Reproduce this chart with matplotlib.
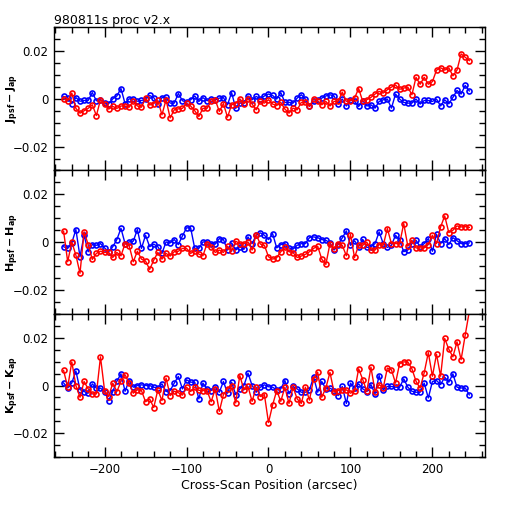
import matplotlib.pyplot as plt
import numpy as np
from matplotlib.ticker import MultipleLocator

# cross-scan positions (arcsec)
pos = np.arange(-250, 250, 5)

# values in units of 0.001 mag
j_blue = [1.0, 0.5, -2, 0.5, -1, -0.7, -0.7, 2.6, -0.8, -0.3,
          -1.8, -2, 0, 1.2, 4.3, -2, 0, -0.2, -1, -0.7,
          -0.2, 1.4, 0.5, -2.2, 0.5, 0.7, -1.8, -1.8, 2.2, -0.8,
          -1.4, -0.4, 1.2, -1.1, 0.5, -0.8, -0.2, -0.4, 0.3, 0.5,
          -2.5, 2.6, -4, -1.8, -1.8, 1.2, -0.4,
          1.0, 0, 1.2, 2.0, 1.4, -0.1, 2.6, -1.5, -1.5, -1.8,
          0.3, 1.7, -0.1, -3.2, -1.1, -0.4, 0.3, 1.2, 1.7, 1.2,
          -2.1, -0.1, -3.0, -0.4, -1.1, -3.2, -0.8, -3.0, -2.5, -3.9,
          -1.1, -0.4, -0.1, -3.9, 2.0, -0.1, -1.5, -1.8, -1.8, -0.1,
          -2.2, -0.7, -0.7, -1.1, -0.1, -3.0, -0.4, -2.1, 0.6, 3.5,
          2.0, 5.6, 3.3]
j_red = [0, -0.8, 2.4, -4, -6, -5, -4, -2.5, -7, -0.4,
         -2.2, -4.3, -3.2, -4, -3, -3, -3.5, -1, -3, -3.5,
         0.3, -2.6, -2, -0.7, -6.7, -0.4, -8, -4.6, -4.2, -4,
         -1.8, -3, -5, -7.4, -4, -4, -1, -0.4, -5.3, -2,
         -7.7, -2.5, -2, 0, -2, 0,
         -2.2, -4.6, -1.1, -1.8, -0.4, -2.2, -2.8, -1.5, -4.3, -6,
         -3.9, -4.6, -1.5, -1.5, -3.2, 0, -0.8, -2.5, -1.1, -3.0,
         -1.1, -1.1, 2.8, -1.1, -0.8, 0.3, 4.3, -1.1, -0.4, 0.6,
         2.0, 3.1, 2.4, 3.8, 4.9, 5.8, 4.0, 4.5, 4.9, 1.7,
         9.0, 6.1, 9.0, 6.1, 7.2, 12.0, 13.0, 12.0, 13.0, 9.6,
         12.0, 18.8, 17.4, 16.0]

h_blue = [-1.9, -2.6, -0.3, 5.3, -6.1, 2.9, -4.0, -1.0, -1.3, -0.6,
          -2.4, -4.0, -1.9, 1.1, 5.8, -0.6, 0.1, 0.4, 5.3, -2.6,
          2.9, -1.9, -0.8, -1.9, -4.7, 0.1, -0.3, 1.1, -1.0, 2.6,
          6.0, 6.0, -2.6, -2.6, 0.1, 0.1, -0.6, -0.8, 1.5, 1.1,
          -3.3, -0.3, -3.3, -1.9, -3.0, 2.2, -0.6, 2.9, 3.9,
          2.9, 1.1, 3.6, -2.4, -1.0, -0.6, -2.4, -2.9, -1.3, -0.6,
          -0.6, 1.9, 2.2, 1.9, 1.1, 0.8, -0.3, -3.3, -1.0, 1.8,
          4.7, -1.3, 0.6, -1.9, 1.2, -2.2, -1.9, -0.6, 4.3, -0.6,
          -2.2, -1.3, 2.9, 0.8, -4.0, -3.3, -0.6, 0.8, -1.9, -0.6,
          1.5, -3.8, 3.3, -0.6, 1.5, -1.0, 1.9, 0.6, -0.6, -0.6,
          -0.3]
h_red = [4.6, -8.2, 0.1, -5.4, -13.0, 4.3, -1.0, -7.2, -4.7, -3.8,
         -4.3, -4.3, -6.4, -4.3, -5.7, -0.6, -1.5, -8.2, -3.8, -7.1,
         -7.9, -11.4, -7.5, -4.3, -7.1, -4.7, -5.8, -4.0, -3.8, -2.6,
         -2.6, -4.7, -3.6, -5.0, -5.7, -0.6, -1.9, -4.3, -3.3, -4.3,
         -1.7, -3.8, 0.4, -0.6, -0.6, 0.1, -3.3, 3.2, -0.8,
         -1.3, -6.1, -7.1, -6.5, -4.0, -2.2, -4.0, -4.4, -6.4, -5.8,
         -5.1, -4.0, -2.6, -1.7, -7.1, -9.3, -0.6, -2.9, -0.6, -1.3,
         -5.7, 3.2, -6.4, -1.3, -1.3, 0, -3.3, -3.3, -1.0, -1.3,
         5.7, -0.6, -0.6, -0.6, 7.8, -1.7, 0.8, -2.4, -2.4, -2.4,
         -1.0, 2.9, -0.6, 6.4, 11.0, 4.0, 5.0, 6.8, 6.4, 6.5,
         6.2]

k_blue = [1.1, -1.0, 1.1, 6.1, -1.7, -2.5, -3.2, 0.7, -1.1, -1.1,
          -2.5, -6.3, -2.5, 1.8, 4.9, -2.4, 2.1, -0.7, 0, 0.3,
          0, 0, -0.7, -1.0, 0.7, -2.5, -2.1, 1.0, 3.8, -1.4,
          2.4, 1.4, 1.4, -5.6, 1.0, -1.4, -2.1, -0.7, -2.8, 1.7,
          -3.2, 1.4, -3.8, -1.4, 0, 5.2, 0, -2.8, -0.7,
          0.3, -0.5,
          -0.7, -1.8, -1.4, 2.1, -3.5, -0.4, -1.4, -2.8, -2.8, -1.8,
          3.5, -2.8, 1.7, -1.4, -1.1, -2.1, -4.2, -0.4, -7.5, 1.0,
          -1.0, 0.7, -1.4, -2.5, 0.4, -3.5, 4.2, -1.8, -0.4, -0.4,
          -0.7, -0.7, 2.8, -0.7, -2.4, -2.8, -2.8, 1.0, -5.2, 1.7,
          2.1, 0.4, 3.5, 1.4, 4.9, -0.7, -1.0, -1.0, -3.9]
k_red = [6.3, -0.7, 9.9, 0, -4.9, 1.7, -1.4, -3.5, -3.5, 12.0,
         -2.1, -4.6, 1.0, -2.5, 1.7, 4.5, 1.0, -3.2, -1.8, -2.1,
         -6.8, -5.6, -9.2, -1.8, -6.3, 3.1, -4.2, -2.4, -3.0, -4.0,
         -0.7, -2.5, -0.7, -2.0, -2.1, -2.1, -6.8, -1.4, -10.8, -3.8,
         -1.4, 0, -7.3, 4.2, -1.8, -0.4, -6.6, -0.7, -4.6, -3.8,
         -15.5,
         -8.2, -2.1, -6.6, -0.7, -7.5, -0.7, -5.6, -7.5, -0.7, -6.1,
         2.8, 5.6, -4.9, -1.0, 5.5, -2.8, -2.1, -1.8, -1.8, -3.2,
         -2.4, 7.0, 2.5, -2.4, 7.7, -2.5, 0.4, -1.0, 7.3, 6.6,
         1.0, 9.2, 9.9, 9.9, 7.0, 1.8, -1.1, 5.4, 13.8, 3.9,
         13.1, 3.9, 19.7, 15.2, 12.0, 18.3, 10.8, 21.1, 31.0]

panels = [
    (r"$\mathbf{J_{psf}-J_{ap}}$", j_blue, j_red),
    (r"$\mathbf{H_{psf}-H_{ap}}$", h_blue, h_red),
    (r"$\mathbf{K_{psf}-K_{ap}}$", k_blue, k_red),
]


def fmt(v, p):
    if abs(v) < 1e-9:
        return "0"
    return ("%.2f" % v).replace("-", "\u2212")


fig, axes = plt.subplots(3, 1, figsize=(5.12, 5.12), dpi=100, sharex=True)
fig.subplots_adjust(left=0.105, right=0.947, top=0.947, bottom=0.107, hspace=0)

for ax, (label, blue, red) in zip(axes, panels):
    ax.plot(pos[:len(blue)], np.array(blue) * 1e-3, color='blue', lw=1,
            marker='o', ms=3.6, mfc='none', mew=1.2)
    ax.plot(pos[:len(red)], np.array(red) * 1e-3, color='red', lw=1,
            marker='o', ms=3.6, mfc='none', mew=1.2)
    ax.set_xlim(-262, 264)
    ax.set_ylim(-0.03, 0.03)
    ax.yaxis.set_major_locator(MultipleLocator(0.02))
    ax.yaxis.set_minor_locator(MultipleLocator(0.005))
    ax.xaxis.set_major_locator(MultipleLocator(100))
    ax.xaxis.set_minor_locator(MultipleLocator(20))
    ax.yaxis.set_major_formatter(plt.FuncFormatter(fmt))
    ax.tick_params(which='both', direction='in', top=True, right=True, labelsize=8.5)
    ax.tick_params(which='major', length=7, width=1, pad=4)
    ax.tick_params(which='minor', length=4, width=1)
    ax.set_ylabel(label, fontsize=8)
    ax.yaxis.set_label_coords(-0.075, 0.5)
    for s in ax.spines.values():
        s.set_linewidth(1)

axes[-1].set_xlabel("Cross-Scan Position (arcsec)", fontsize=9, labelpad=2)
axes[0].set_title("980811s proc v2.x", fontsize=9, loc='left', pad=2)

fig.savefig("out.png", dpi=100)
